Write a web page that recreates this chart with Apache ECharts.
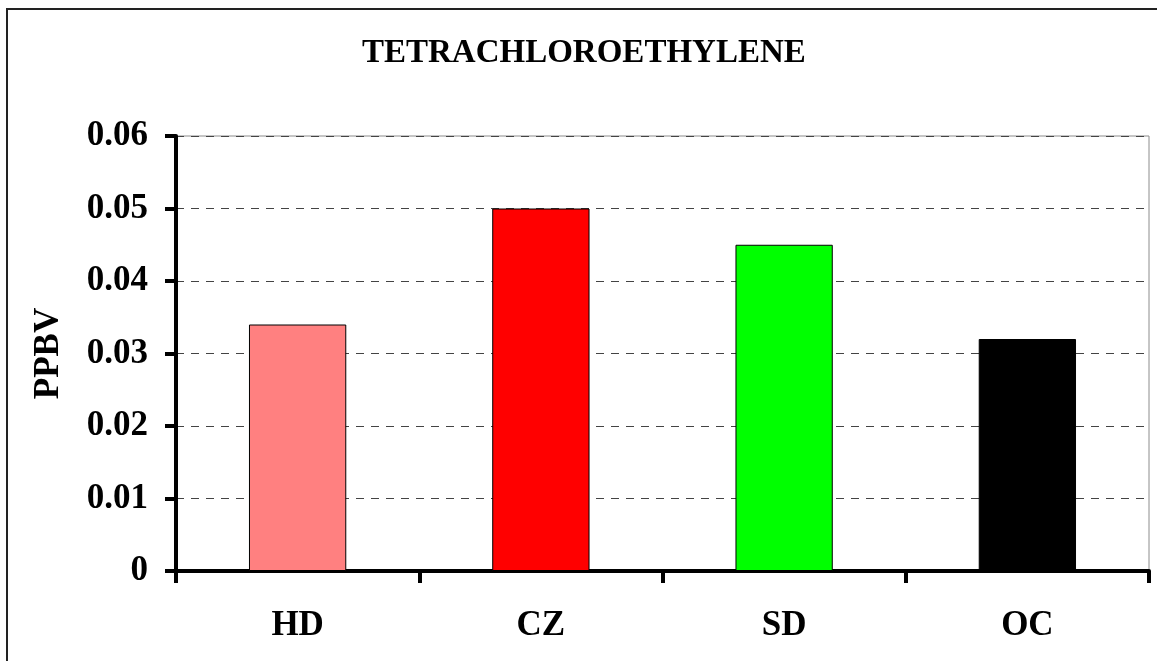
<!DOCTYPE html>
<html>
<head>
<meta charset="utf-8">
<script src="https://cdn.jsdelivr.net/npm/echarts@6/dist/echarts.min.js"></script>
<style>
  html, body { margin: 0; padding: 0; background: #fff; }
  #main { width: 1157px; height: 661px; }
</style>
</head>
<body>
<div id="main"></div>
<script>
const myChart = echarts.init(document.getElementById('main'))

// data
const sites = ['HD', 'CZ', 'SD', 'OC']
const ppbv = [0.034, 0.05, 0.045, 0.032]
const barColors = ['#FF8080', '#FF0000', '#00FF00', '#000000']

const serif = "'Liberation Serif', 'Times New Roman', serif"

var option = {
  animation: false,
  backgroundColor: '#fff',
  title: {
    text: 'TETRACHLOROETHYLENE',
    left: 362,
    top: 37,
    padding: 0,
    textStyle: { fontFamily: serif, fontWeight: 'bold', fontSize: 33, color: '#000' },
  },
  graphic: [
    {
      type: 'rect',
      shape: { x: 7, y: 9, width: 1200, height: 700 },
      style: { fill: 'none', stroke: '#222', lineWidth: 2 },
      silent: true,
    },
  ],
  grid: {
    left: 176,
    right: 8,
    top: 136,
    bottom: 90,
    show: true,
    borderColor: '#8c8c8c',
    borderWidth: 1,
  },
  xAxis: {
    type: 'category',
    data: sites,
    axisLine: { lineStyle: { color: '#000', width: 4 } },
    axisTick: { show: true, length: 12, lineStyle: { color: '#000', width: 4 } },
    axisLabel: { margin: 37, fontFamily: serif, fontWeight: 'bold', fontSize: 35, color: '#000' },
  },
  yAxis: {
    type: 'value',
    min: 0,
    max: 0.06,
    interval: 0.01,
    name: 'PPBV',
    nameLocation: 'middle',
    nameRotate: 90,
    nameGap: 110,
    nameTextStyle: { fontFamily: serif, fontWeight: 'bold', fontSize: 35, color: '#000' },
    axisLine: { show: true, lineStyle: { color: '#000', width: 4 } },
    axisTick: { show: true, length: 11, lineStyle: { color: '#000', width: 4 } },
    axisLabel: { margin: 28, fontFamily: serif, fontWeight: 'bold', fontSize: 35, color: '#000' },
    splitLine: { lineStyle: { color: '#444', width: 1, type: [8, 7] } },
  },
  series: [
    {
      type: 'bar',
      barWidth: '40%',
      data: ppbv.map((v, i) => ({
        value: v,
        itemStyle: { color: barColors[i], borderColor: '#000', borderWidth: 1 },
      })),
    },
  ],
}

myChart.setOption(option)
</script>
</body>
</html>
